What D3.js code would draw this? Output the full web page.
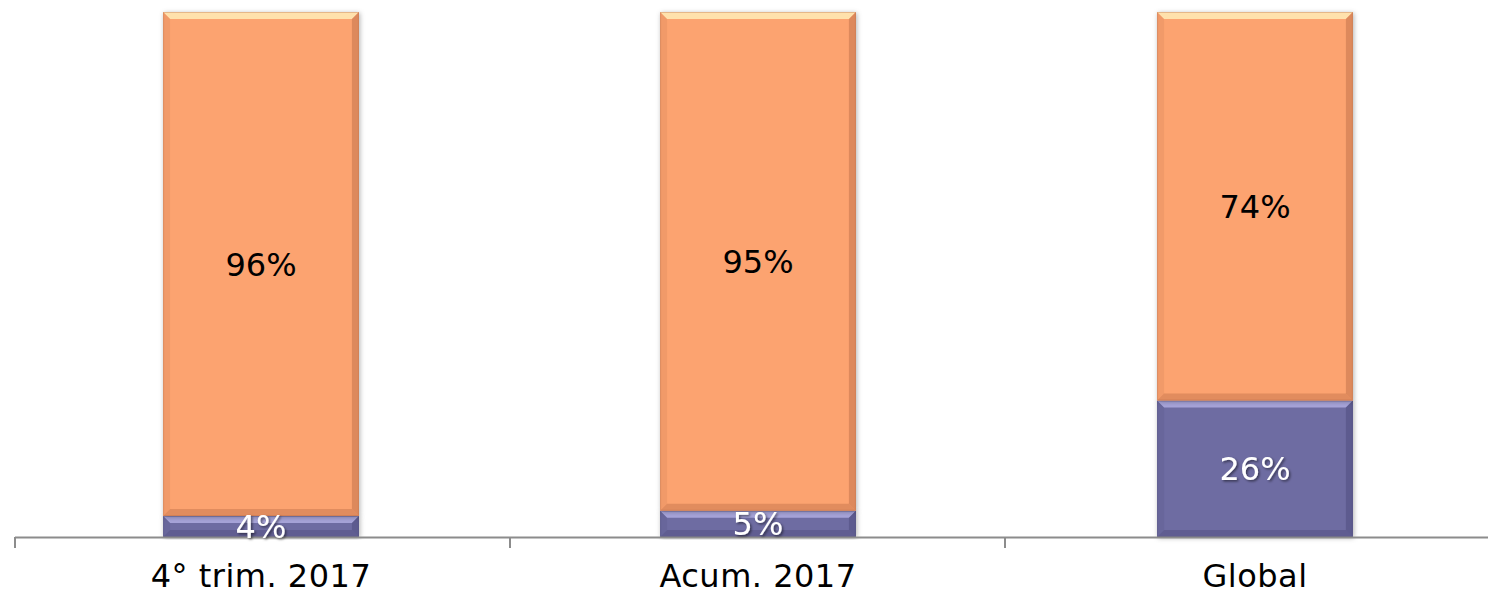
<!doctype html>
<html>
<head>
<meta charset="utf-8">
<title>Stacked bars</title>
<style>
  body { margin: 0; background: #fff; }
  svg { display: block; font-family: "DejaVu Sans", Verdana, sans-serif; }
</style>
</head>
<body>
<div id="chart"></div>
<script src="https://cdn.jsdelivr.net/npm/d3@7/dist/d3.min.js"></script>
<script>
var categories = ['4° trim. 2017', 'Acum. 2017', 'Global'];
var lowerValues = [4, 5, 26];
var upperValues = [96, 95, 74];
var lowerLabels = ['4%', '5%', '26%'];
var upperLabels = ['96%', '95%', '74%'];

var width = 1488, height = 595;
var x0 = 15, x1 = 1500, yBase = 537, yTop = 12;
var bev = 7;

var svg = d3.select('#chart').append('svg')
  .attr('width', width).attr('height', height);

var defs = svg.append('defs');
var f = defs.append('filter').attr('id', 'shadow')
  .attr('x', '-10%').attr('y', '-10%').attr('width', '120%').attr('height', '120%');
f.append('feDropShadow').attr('dx', 1).attr('dy', 1).attr('stdDeviation', 2.5)
  .attr('flood-color', '#000').attr('flood-opacity', 0.3);
var tf = defs.append('filter').attr('id', 'tshadow');
tf.append('feDropShadow').attr('dx', 1.5).attr('dy', 1.5).attr('stdDeviation', 1)
  .attr('flood-color', '#000').attr('flood-opacity', 0.5);

var x = d3.scaleBand().domain(categories).range([14, 1502]).paddingInner(0.606).paddingOuter(0.3);
var y = d3.scaleLinear().domain([0, 100]).range([yBase, yTop]);

var stacks = categories.map(function(c, i) {
  return [
    {cat: c, y0: 0, y1: lowerValues[i], label: lowerLabels[i], base: '#6e6ca2', light: '#b4b2e6', dark: '#4a4878', text: '#fff'},
    {cat: c, y0: lowerValues[i], y1: lowerValues[i] + upperValues[i], label: upperLabels[i], base: '#fca36f', light: '#fff0bc', dark: '#b86a44', text: '#000'}
  ];
});

function bevelRect(g, xl, yt, w, h, s) {
  var b = Math.min(bev, h / 2, w / 2);
  var xr = xl + w, yb = yt + h;
  g.append('rect').attr('x', xl).attr('y', yt).attr('width', w).attr('height', h)
    .attr('fill', s.base).attr('filter', 'url(#shadow)');
  // top
  g.append('polygon').attr('points', [[xl, yt], [xr, yt], [xr - b, yt + b], [xl + b, yt + b]].join(' '))
    .attr('fill', s.light).attr('opacity', 0.8);
  // left
  g.append('polygon').attr('points', [[xl, yt], [xl + b, yt + b], [xl + b, yb - b], [xl, yb]].join(' '))
    .attr('fill', s.dark).attr('opacity', 0.15);
  // right
  g.append('polygon').attr('points', [[xr, yt], [xr, yb], [xr - b, yb - b], [xr - b, yt + b]].join(' '))
    .attr('fill', s.dark).attr('opacity', 0.45);
  // bottom
  g.append('polygon').attr('points', [[xl, yb], [xr, yb], [xr - b, yb - b], [xl + b, yb - b]].join(' '))
    .attr('fill', s.dark).attr('opacity', 0.4);
  g.append('rect').attr('x', xl + 0.5).attr('y', yt + 0.5).attr('width', w - 1).attr('height', h - 1)
    .attr('fill', 'none').attr('stroke', s.dark).attr('stroke-opacity', 0.35);
}

var gBars = svg.append('g');
stacks.forEach(function(stack) {
  stack.forEach(function(s) {
    var g = gBars.append('g');
    bevelRect(g, x(s.cat), y(s.y1), x.bandwidth(), y(s.y0) - y(s.y1), s);
  });
});

// axis
svg.append('line').attr('x1', x0).attr('x2', x1).attr('y1', yBase + 0.5).attr('y2', yBase + 0.5)
  .attr('stroke', '#8c8c8c').attr('stroke-width', 2);
[0, 1, 2, 3].forEach(function(i) {
  var tx = x0 + i * (x1 - x0) / 3;
  svg.append('line').attr('x1', tx).attr('x2', tx).attr('y1', yBase).attr('y2', yBase + 11)
    .attr('stroke', '#8c8c8c').attr('stroke-width', 2);
});

// labels
stacks.forEach(function(stack) {
  stack.forEach(function(s) {
    svg.append('text')
      .attr('x', x(s.cat) + x.bandwidth() / 2)
      .attr('y', (y(s.y0) + y(s.y1)) / 2)
      .attr('dy', '0.36em')
      .attr('text-anchor', 'middle')
      .attr('font-size', 32)
      .attr('fill', s.text)
      .attr('filter', s.text === '#fff' ? 'url(#tshadow)' : null)
      .text(s.label);
  });
});

svg.selectAll('.cat').data(categories).enter().append('text')
  .attr('class', 'cat')
  .attr('x', function(d) { return x(d) + x.bandwidth() / 2; })
  .attr('y', 587)
  .attr('text-anchor', 'middle')
  .attr('font-size', 32)
  .attr('letter-spacing', 0.5)
  .attr('fill', '#000')
  .text(function(d) { return d; });
</script>
</body>
</html>
